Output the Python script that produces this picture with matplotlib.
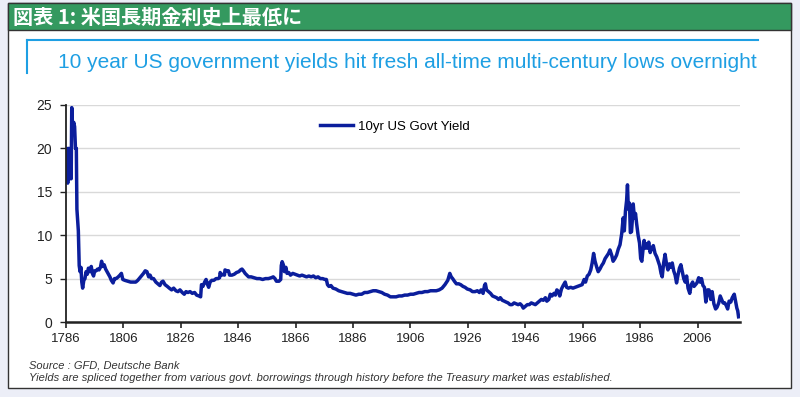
import matplotlib
matplotlib.use("Agg")
import matplotlib.pyplot as plt
from matplotlib.patches import Rectangle
from matplotlib.lines import Line2D

plt.rcParams['font.family'] = ['Liberation Sans', 'DejaVu Sans']

# 10yr US govt yield
years = [1786.0, 1786.3, 1786.6, 1786.9, 1787.2, 1787.5, 1787.8, 1788.0, 1788.3, 1788.7,
         1789.0, 1789.3, 1789.6, 1789.8, 1790.0, 1790.3, 1790.6, 1790.9, 1791.2, 1791.5,
         1791.8, 1792.2, 1792.6, 1793.0, 1793.4, 1793.8, 1794.3, 1794.8, 1795.2, 1795.6,
         1796.0, 1796.5, 1797.0, 1797.5, 1798.0, 1798.4, 1798.8, 1799.3, 1799.8, 1800.3,
         1800.8, 1801.3, 1801.8, 1802.4, 1802.9, 1803.5, 1804.2, 1804.8, 1805.3, 1805.8,
         1806.5, 1807.5, 1808.5, 1809.5, 1810.3, 1811.0, 1812.0, 1813.0, 1813.6, 1814.2,
         1814.8, 1815.3, 1815.8, 1816.5, 1817.3, 1818.0, 1818.7, 1819.3, 1819.8, 1820.5,
         1821.3, 1822.0, 1822.8, 1823.5, 1824.3, 1825.0, 1825.7, 1826.5, 1827.2, 1827.8,
         1828.5, 1829.2, 1830.0, 1830.8, 1831.5, 1832.3, 1832.9, 1833.2, 1833.7, 1834.3,
         1834.8, 1835.2, 1835.7, 1836.2, 1836.8, 1837.5, 1838.3, 1839.0, 1839.5, 1839.7,
         1840.2, 1840.8, 1841.2, 1841.4, 1842.0, 1842.6, 1843.0, 1843.8, 1844.6, 1845.4,
         1846.2, 1846.8, 1847.3, 1847.8, 1848.4, 1849.0, 1849.6, 1850.5, 1851.5, 1852.5,
         1853.5, 1854.5, 1855.5, 1856.5, 1857.5, 1858.2, 1858.8, 1859.3, 1860.2, 1860.8,
         1861.0, 1861.3, 1861.7, 1862.1, 1862.6, 1863.0, 1863.6, 1864.2, 1865.0, 1865.8,
         1866.6, 1867.4, 1868.2, 1869.0, 1869.8, 1870.6, 1871.4, 1872.2, 1873.0, 1873.8,
         1874.6, 1875.4, 1876.2, 1876.7, 1877.1, 1877.6, 1878.3, 1879.0, 1880.0, 1881.0,
         1882.0, 1883.0, 1884.0, 1885.0, 1886.0, 1887.0, 1888.0, 1889.0, 1890.0, 1891.0,
         1892.0, 1893.0, 1894.0, 1895.0, 1896.0, 1897.0, 1898.0, 1899.0, 1900.0, 1901.0,
         1902.0, 1903.0, 1904.0, 1905.0, 1906.0, 1907.0, 1908.0, 1909.0, 1910.0, 1911.0,
         1912.0, 1913.0, 1914.0, 1915.0, 1916.0, 1917.0, 1918.0, 1919.0, 1919.7, 1920.2,
         1920.7, 1921.3, 1922.0, 1922.8, 1923.5, 1924.3, 1925.0, 1925.8, 1926.8, 1927.6,
         1928.5, 1929.3, 1930.0, 1930.6, 1931.3, 1931.8, 1932.1, 1932.5, 1933.2, 1933.9,
         1934.6, 1935.3, 1936.0, 1936.7, 1937.3, 1938.0, 1938.7, 1939.3, 1940.0, 1940.7,
         1941.4, 1942.1, 1942.8, 1943.5, 1944.2, 1944.8, 1945.3, 1946.0, 1946.7, 1947.4,
         1948.1, 1948.8, 1949.5, 1950.2, 1950.9, 1951.6, 1952.3, 1953.0, 1953.5, 1954.2,
         1954.7, 1955.3, 1956.0, 1956.5, 1957.0, 1957.6, 1958.0, 1958.6, 1959.2, 1959.9,
         1960.4, 1961.0, 1961.8, 1962.6, 1963.4, 1964.2, 1965.0, 1965.8, 1966.5, 1967.0,
         1967.6, 1968.2, 1968.8, 1969.3, 1969.8, 1970.3, 1970.9, 1971.4, 1972.0, 1972.6,
         1973.2, 1973.8, 1974.4, 1975.0, 1975.5, 1976.1, 1976.6, 1977.2, 1977.8, 1978.4,
         1979.0, 1979.6, 1980.1, 1980.5, 1980.9, 1981.3, 1981.6, 1981.9, 1982.3, 1982.6,
         1983.0, 1983.3, 1983.6, 1984.0, 1984.4, 1984.8, 1985.3, 1985.8, 1986.2, 1986.6,
         1987.0, 1987.4, 1987.8, 1988.2, 1988.6, 1989.0, 1989.5, 1990.0, 1990.6, 1991.2,
         1991.8, 1992.3, 1992.8, 1993.3, 1993.7, 1994.2, 1994.7, 1995.2, 1995.7, 1996.2,
         1996.7, 1997.2, 1997.7, 1998.2, 1998.7, 1999.2, 1999.7, 2000.2, 2000.7, 2001.2,
         2001.7, 2002.2, 2002.7, 2003.3, 2003.8, 2004.3, 2004.8, 2005.3, 2005.8, 2006.4,
         2006.9, 2007.4, 2007.9, 2008.4, 2008.9, 2009.5, 2010.0, 2010.6, 2011.1, 2011.7,
         2012.3, 2012.8, 2013.4, 2013.9, 2014.4, 2014.9, 2015.5, 2016.0, 2016.5, 2017.0,
         2017.6, 2018.1, 2018.8, 2019.3, 2019.7, 2020.0, 2020.3]
yields = [16.5, 20.0, 16.0, 20.0, 16.5, 20.0, 16.5, 24.7, 22.5, 23.0,
          22.5, 20.0, 20.0, 13.0, 12.0, 10.5, 6.5, 5.8, 6.3, 4.6,
          3.9, 4.8, 5.0, 5.8, 5.5, 6.2, 5.8, 6.4, 5.6, 5.3,
          5.9, 5.9, 6.1, 6.0, 6.3, 7.0, 6.4, 6.6, 6.1, 5.8,
          5.5, 5.2, 4.8, 4.5, 5.0, 5.0, 5.2, 5.4, 5.6, 4.9,
          4.8, 4.7, 4.6, 4.6, 4.6, 4.8, 5.2, 5.6, 5.9, 5.8,
          5.2, 5.4, 5.0, 5.0, 4.6, 4.4, 4.2, 4.6, 4.7, 4.3,
          4.1, 3.9, 3.7, 3.9, 3.6, 3.5, 3.7, 3.4, 3.2, 3.5,
          3.4, 3.5, 3.3, 3.4, 3.1, 3.0, 2.9, 4.3, 4.1, 4.6,
          4.9, 4.4, 4.0, 4.6, 4.8, 4.8, 5.0, 5.0, 5.1, 5.7,
          5.4, 5.5, 5.4, 6.0, 5.9, 5.9, 5.4, 5.4, 5.5, 5.7,
          5.8, 6.0, 6.1, 5.9, 5.6, 5.4, 5.2, 5.2, 5.1, 5.0,
          5.0, 4.9, 5.0, 5.0, 5.1, 5.2, 5.0, 4.7, 4.7, 4.9,
          6.5, 6.95, 6.6, 5.8, 6.3, 5.6, 5.7, 5.4, 5.6, 5.5,
          5.4, 5.3, 5.4, 5.3, 5.2, 5.3, 5.2, 5.3, 5.1, 5.2,
          5.0, 5.0, 4.9, 4.9, 4.3, 4.1, 4.2, 3.9, 3.8, 3.6,
          3.5, 3.4, 3.3, 3.3, 3.2, 3.1, 3.2, 3.2, 3.4, 3.4,
          3.5, 3.6, 3.6, 3.5, 3.4, 3.2, 3.1, 2.9, 2.9, 2.9,
          3.0, 3.0, 3.1, 3.1, 3.2, 3.2, 3.3, 3.4, 3.4, 3.5,
          3.5, 3.6, 3.6, 3.6, 3.7, 3.9, 4.3, 4.8, 5.6, 5.2,
          5.0, 4.7, 4.4, 4.4, 4.3, 4.1, 4.0, 3.8, 3.7, 3.5,
          3.5, 3.6, 3.4, 3.7, 3.3, 4.2, 4.4, 3.7, 3.5, 3.3,
          3.0, 2.9, 2.8, 2.6, 2.8, 2.5, 2.4, 2.3, 2.2, 2.0,
          2.0, 2.2, 2.1, 2.0, 2.1, 1.9, 1.6, 1.8, 2.0, 2.0,
          2.2, 2.1, 2.0, 2.2, 2.4, 2.6, 2.5, 2.8, 2.4, 2.6,
          3.2, 3.0, 3.3, 3.1, 3.7, 3.5, 3.0, 3.8, 4.2, 4.6,
          4.0, 3.9, 4.0, 3.9, 4.0, 4.1, 4.2, 4.3, 4.9, 4.6,
          5.3, 5.5, 6.0, 6.8, 7.9, 7.0, 6.3, 5.8, 6.1, 6.5,
          6.8, 7.3, 7.6, 7.9, 8.3, 7.7, 7.0, 7.3, 7.7, 8.4,
          8.9, 10.2, 12.0, 10.5, 12.8, 14.0, 15.8, 13.0, 13.7, 10.3,
          10.4, 11.8, 13.6, 12.0, 12.5, 11.3, 10.0, 9.1, 7.3, 7.0,
          8.3, 9.4, 8.5, 9.0, 8.5, 9.2, 8.0, 8.5, 8.8, 7.9,
          7.5, 7.0, 6.5, 5.6, 5.2, 6.8, 7.8, 6.7, 6.0, 6.7,
          6.3, 6.8, 5.9, 5.4, 4.5, 5.4, 6.2, 6.6, 5.8, 5.0,
          4.6, 5.3, 3.9, 3.3, 4.3, 4.6, 4.1, 4.3, 4.5, 5.1,
          4.6, 5.0, 4.2, 4.0, 2.3, 3.7, 3.7, 2.6, 3.5, 2.1,
          1.5, 1.7, 2.2, 3.0, 2.6, 2.2, 2.2, 1.9, 1.5, 2.4,
          2.3, 2.8, 3.2, 2.3, 1.6, 1.3, 0.6]

xticks = [1786, 1806, 1826, 1846, 1866, 1886, 1906, 1926, 1946, 1966, 1986, 2006]
yticks = [0, 5, 10, 15, 20, 25]

header = "図表 1: 米国長期金利史上最低に"
subtitle = "10 year US government yields hit fresh all-time multi-century lows overnight"
source1 = "Source : GFD, Deutsche Bank"
source2 = "Yields are spliced together from various govt. borrowings through history before the Treasury market was established."

W, H = 800, 397
fig = plt.figure(figsize=(W / 100, H / 100), dpi=100)
fig.patch.set_facecolor('#eceef7')

def fx(px):
    return px / W

def fy(py):
    return 1 - py / H

# white frame + green header
fig.patches.append(Rectangle((fx(8), fy(388)), fx(791) - fx(8), fy(3) - fy(388),
                             transform=fig.transFigure, facecolor='white',
                             edgecolor='#333333', linewidth=1, zorder=-2))
fig.patches.append(Rectangle((fx(8), fy(30)), fx(791) - fx(8), fy(3) - fy(30),
                             transform=fig.transFigure, facecolor='#34995f',
                             edgecolor='#333333', linewidth=1, zorder=-1))
fig.text(fx(13), fy(17), header, color='white', fontsize=14.5, fontweight='bold',
         va='center', ha='left', family=['Noto Sans CJK JP', 'DejaVu Sans'])

# blue subtitle bracket
blue = '#1e9fe3'
fig.lines.append(Line2D([fx(27), fx(758)], [fy(40), fy(40)], transform=fig.transFigure,
                        color=blue, linewidth=1.5))
fig.lines.append(Line2D([fx(27), fx(27)], [fy(40), fy(73)], transform=fig.transFigure,
                        color=blue, linewidth=1.5))
fig.text(fx(58), fy(62), subtitle, color=blue, fontsize=15, va='center', ha='left')

ax = fig.add_axes([fx(66), fy(322), fx(740) - fx(66), fy(105) - fy(322)])
ax.set_zorder(5)
ax.set_facecolor('none')
line_color = '#0b1e9c'
ax.plot(years, yields, color=line_color, linewidth=2.5, label='10yr US Govt Yield')

ax.set_xlim(1786, 2020.8)
ax.set_ylim(0, 25)
ax.set_xticks(xticks)
ax.set_yticks(yticks)
ax.grid(axis='y', color='#d9d9d9', linewidth=1)
ax.set_axisbelow(True)
for s in ['top', 'right']:
    ax.spines[s].set_visible(False)
ax.spines['left'].set_color('#222222')
ax.spines['left'].set_linewidth(1.3)
ax.spines['bottom'].set_color('#222222')
ax.spines['bottom'].set_linewidth(1.8)
ax.tick_params(axis='y', length=4, width=1, pad=6, labelsize=10, colors='#222222')
ax.tick_params(axis='x', length=4, width=1.2, pad=4, labelsize=9.5, colors='#222222')
for lab in ax.get_xticklabels() + ax.get_yticklabels():
    lab.set_family(['Liberation Sans Narrow', 'Liberation Sans'])

ax.legend(loc='center left', bbox_to_anchor=(fx(320), fy(127)), bbox_transform=fig.transFigure,
          frameon=False, fontsize=9.5, handlelength=2.5, handletextpad=0.35,
          borderpad=0, borderaxespad=0)

src_font = ['Liberation Sans Narrow', 'Liberation Sans']
fig.text(fx(29), fy(365), source1, fontsize=8, style='italic', color='#333333',
         va='center', family=src_font)
fig.text(fx(29), fy(378), source2, fontsize=8, style='italic', color='#333333',
         va='center', family=src_font)

fig.savefig('out.png', dpi=100, facecolor=fig.get_facecolor())
